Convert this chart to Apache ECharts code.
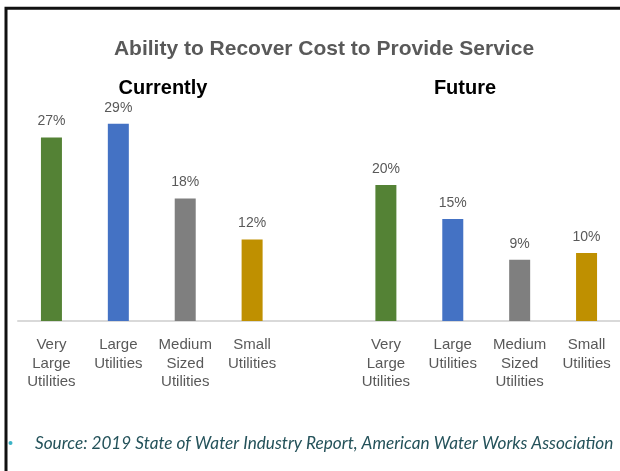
<!DOCTYPE html>
<html>
<head>
<meta charset="utf-8">
<script src="https://cdn.jsdelivr.net/npm/echarts@6/dist/echarts.min.js"></script>
<style>
  html, body { margin: 0; padding: 0; background: #ffffff; }
  #chart { width: 620px; height: 471px; }
</style>
</head>
<body>
<div id="chart"></div>
<script>
// Survey categories and shares (percent) for each period
const categories = ['Very\nLarge\nUtilities', 'Large\nUtilities', 'Medium\nSized\nUtilities', 'Small\nUtilities'];
const currentValues = [27, 29, 18, 12];
const futureValues = [20, 15, 9, 10];
const barColors = ['#548235', '#4472C4', '#7F7F7F', '#BF9000'];

const chartTitle = 'Ability to Recover Cost to Provide Service';
const groupTitles = ['Currently', 'Future'];
const sourceNote = 'Source: 2019 State of Water Industry Report, American Water Works Association';

// One shared axis: current group, an empty spacer slot, then future group
const axisCategories = categories.concat(['']).concat(categories);
const toItems = vals => vals.map((v, i) => ({ value: v, itemStyle: { color: barColors[i] } }));
const seriesData = toItems(currentValues).concat([{ value: '-' }]).concat(toItems(futureValues));

const chart = echarts.init(document.getElementById('chart'), null, { renderer: 'canvas' });

chart.setOption({
  animation: false,
  backgroundColor: '#ffffff',
  title: [
    {
      text: chartTitle, left: 319, top: 34, textAlign: 'center',
      textStyle: { fontFamily: 'Liberation Sans', fontWeight: 'bold', fontSize: 21, color: '#595959' }
    },
    {
      text: groupTitles[0], left: 158, top: 73, textAlign: 'center',
      textStyle: { fontFamily: 'Liberation Sans', fontWeight: 'bold', fontSize: 20, color: '#000000' }
    },
    {
      text: groupTitles[1], left: 460, top: 73, textAlign: 'center',
      textStyle: { fontFamily: 'Liberation Sans', fontWeight: 'bold', fontSize: 20, color: '#000000' }
    },
    {
      text: sourceNote, left: 30, top: 430,
      textStyle: { fontFamily: 'Lato', fontStyle: 'italic', fontWeight: 'normal', fontSize: 17.2, color: '#24525a' }
    }
  ],
  graphic: [
    {
      type: 'polyline',
      shape: { points: [[6, 471], [6, 8.2], [620, 8.2]] },
      style: { stroke: '#111111', lineWidth: 3, fill: null }
    },
    {
      type: 'circle',
      shape: { cx: 10.5, cy: 443, r: 2 },
      style: { fill: '#3bb3c6' }
    }
  ],
  grid: { left: 18, top: 117, width: 603, height: 204, containLabel: false },
  xAxis: {
    type: 'category',
    data: axisCategories,
    axisLine: { show: true, lineStyle: { color: '#d9d9d9', width: 2 } },
    axisTick: { show: false },
    axisLabel: {
      interval: 0, margin: 15, lineHeight: 18.5,
      fontFamily: 'Liberation Sans', fontSize: 15, color: '#595959', align: 'center'
    }
  },
  yAxis: {
    type: 'value', min: 0, max: 30,
    show: false, splitLine: { show: false }
  },
  series: [{
    type: 'bar',
    data: seriesData,
    barWidth: 21,
    label: {
      show: true, position: 'top', distance: 9,
      formatter: '{c}%',
      fontFamily: 'Liberation Sans', fontSize: 14, color: '#595959'
    }
  }]
});
</script>
</body>
</html>
